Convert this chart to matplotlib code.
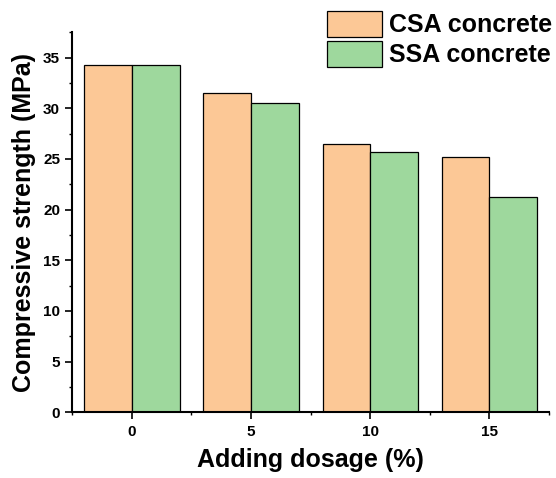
import numpy as np
import matplotlib
matplotlib.use("Agg")
import matplotlib.pyplot as plt
from matplotlib.ticker import MultipleLocator

plt.rcParams['font.family'] = ['Liberation Sans', 'DejaVu Sans']
plt.rcParams['font.weight'] = 'bold'

dosage = [0, 5, 10, 15]
csa = [34.3, 31.5, 26.5, 25.2]
ssa = [34.3, 30.5, 25.7, 21.2]
series_names = ["CSA concrete", "SSA concrete"]

fig = plt.figure(figsize=(5.56, 4.78), dpi=100)
ax = fig.add_axes([0.130, 0.1374, 0.8574, 0.795])

x = np.array(dosage, dtype=float)
ax.bar(x - 1, csa, width=2, color='#FCC896', edgecolor='black', linewidth=0.9,
       label=series_names[0])
ax.bar(x + 1, ssa, width=2, color='#9ED89D', edgecolor='black', linewidth=0.9,
       label=series_names[1])

ax.set_xlim(-2.5, 17.5)
ax.set_ylim(0, 37.5)
ax.set_xticks(dosage)
ax.xaxis.set_minor_locator(MultipleLocator(2.5))
ax.yaxis.set_major_locator(MultipleLocator(5))
ax.yaxis.set_minor_locator(MultipleLocator(2.5))

for s in ['top', 'right']:
    ax.spines[s].set_visible(False)
for s in ['left', 'bottom']:
    ax.spines[s].set_linewidth(1.5)

ax.tick_params(which='major', direction='out', length=4.8, width=1.2,
               labelsize=11, pad=4)
ax.tick_params(which='minor', direction='out', length=2.5, width=1.0)
for lab in ax.get_xticklabels() + ax.get_yticklabels():
    lab.set_fontweight('bold')

ax.set_xlabel("Adding dosage (%)", fontsize=18, fontweight='bold', labelpad=7)
ax.set_ylabel("Compressive strength (MPa)", fontsize=18, fontweight='bold', labelpad=5)

fig.legend(loc='upper left', bbox_to_anchor=(326.7 / 556, 1 - 11.0 / 478),
           frameon=False, handlelength=2.2, handleheight=1.2,
           handletextpad=0.28, labelspacing=0.15, borderpad=0, borderaxespad=0,
           prop={'weight': 'bold', 'size': 18})

fig.savefig("out.png", dpi=100)
